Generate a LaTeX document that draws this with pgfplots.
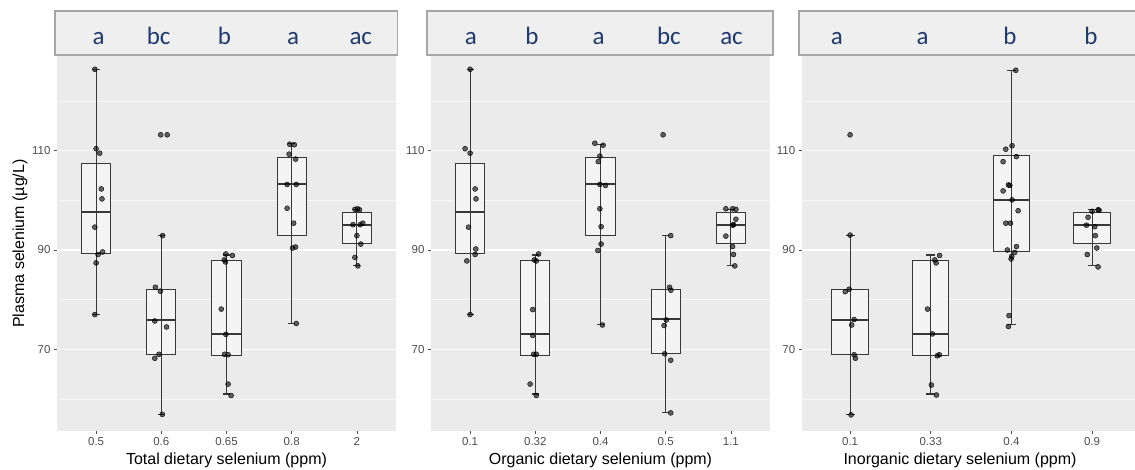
\documentclass[border=0pt]{standalone}
\usepackage{fontspec}
\setmainfont{Liberation Sans}
\newfontfamily\letterfont{Carlito}
\usepackage{pgfplots}
\usepackage{pgfplotstable}
\pgfplotsset{compat=1.18}
\definecolor{panelbg}{HTML}{EBEBEB}
\definecolor{stripfill}{HTML}{EFEFEF}
\definecolor{stripdraw}{HTML}{A6A6A6}
\definecolor{lettercol}{HTML}{1F3A6E}
\definecolor{tickcol}{HTML}{4D4D4D}
\definecolor{boxline}{HTML}{383838}
\definecolor{boxfill}{HTML}{F4F4F4}

\pgfplotsset{
  panel/.style={
    scale only axis, anchor=south west, height=375pt,
    ymin=53.55, ymax=129.07,
    axis background/.style={fill=panelbg},
    axis lines*=left,
    axis line style={draw=none},
    ytick={70,90,110}, minor ytick={60,80,100,120},
    ymajorgrids, yminorgrids, xmajorgrids=false,
    major grid style={white, line width=1.1pt},
    minor grid style={white!55!panelbg, line width=0.6pt},
    tick align=outside, major tick length=3pt, minor tick length=0pt,
    major tick style={tickcol, line width=0.6pt},
    tick label style={font=\fontsize{11.5}{13}\selectfont, text=tickcol},
    label style={font=\fontsize{16}{19}\selectfont, text=black},
    /pgf/number format/assume math mode=true,
    clip=false,
    x label style={at={(axis description cs:0.5,0)}, anchor=base, yshift=-33pt},
  },
  pts/.style={only marks, mark=*, mark size=2.5pt,
    mark options={fill=black, draw=none, fill opacity=0.6}},
}
\tikzset{
  strip/.style={fill=stripfill, draw=stripdraw, line width=1.3pt},
  lett/.style={font=\letterfont\fontsize{25}{29}\selectfont, text=lettercol, anchor=base},
}

% box: position, lower whisker, Q1, median, Q3, upper whisker
\newcommand{\bx}[6]{%
  \pgfmathsetmacro\xa{#1-0.225}\pgfmathsetmacro\xb{#1+0.225}%
  \pgfmathsetmacro\ca{#1-0.055}\pgfmathsetmacro\cb{#1+0.055}%
  \edef\doboxes{%
    \noexpand\addplot[boxline, fill=boxfill, line width=1pt] coordinates {(\xa,#3) (\xb,#3) (\xb,#5) (\xa,#5)} -- cycle;
    \noexpand\addplot[boxline, line width=2pt] coordinates {(\xa,#4) (\xb,#4)};
    \noexpand\addplot[boxline, line width=1.1pt] coordinates {(#1,#2) (#1,#6)};
    \noexpand\addplot[boxline, line width=1.1pt] coordinates {(\ca,#2) (\cb,#2)};
    \noexpand\addplot[boxline, line width=1.1pt] coordinates {(\ca,#6) (\cb,#6)};
  }\doboxes
}

\pgfplotstableread{
x y
-0.02 126.4
0 110.4
0.055 109.5
0.08 102.3
0.09 100.3
-0.02 94.6
0.1 89.6
0.03 89.1
0 87.4
-0.02 77.0
0.99 113.2
1.09 113.2
1.02 92.9
0.91 82.5
0.985 81.7
0.9 75.7
1.08 74.5
0.965 69.0
0.9 68.2
1.015 56.9
1.99 89.2
2.09 88.9
1.965 88.0
1.985 87.6
1.92 78.1
1.99 73.0
1.97 69.0
2.025 68.9
2.025 63.0
2.07 60.7
2.97 111.3
3.04 111.2
2.96 109.3
3.06 108.3
2.93 103.2
3.07 103.2
2.93 98.4
3.03 95.4
3.015 90.4
3.06 90.6
3.07 75.2
3.97 98.2
4.01 98.3
4.04 98.1
4.09 95.4
3.94 95.1
4.05 95.1
4.0 92.9
4.06 91.2
3.97 88.5
4.015 86.8
}\ptsA

\pgfplotstableread{
x y
0 126.4
-0.077 110.4
0 109.5
0.077 102.3
0.09 100.3
-0.025 94.6
0.087 90.2
0.077 89.1
-0.05 87.8
0 77.0
1.05 89.2
0.985 88.0
1.015 87.8
0.96 78.0
0.96 72.8
0.975 69.0
1.015 69.0
0.92 63.0
1.015 60.7
1.913 111.5
2.04 111.1
1.99 108.9
1.965 107.8
1.99 103.2
2.077 103.0
1.99 98.3
2.01 94.7
2.01 91.2
1.96 89.9
2.03 74.9
2.96 113.2
3.077 92.9
3.06 82.5
3.08 81.9
3.01 75.9
2.975 74.8
2.985 69.1
3.077 67.8
3.077 57.2
3.923 98.3
4.026 98.3
4.077 98.2
4.077 96.2
4.03 95.0
4.04 95.1
3.923 92.8
4.026 90.7
4.04 89.1
4.06 86.8
}\ptsB

\pgfplotstableread{
x y
0 113.2
0 93.0
-0.012 82.1
-0.06 81.6
0.05 76.0
0.02 74.9
0.05 68.9
0.066 68.2
0.012 56.8
1.11 88.9
1.05 88.0
1.066 87.4
0.96 78.1
1.02 73.1
1.08 68.7
1.107 68.9
1.008 62.8
1.07 60.8
2.054 126.2
2.008 111.0
1.93 110.3
2.062 108.8
1.897 107.8
1.963 103.1
1.98 103.0
1.897 101.9
2.008 100.1
2.083 97.9
1.93 95.4
1.988 95.4
1.95 90.0
2.062 90.7
2.04 89.5
1.996 88.2
2.004 88.7
1.97 76.8
1.963 74.6
3.075 98.1
3.087 98.0
3.0 97.8
2.95 96.6
2.93 95.0
3.033 94.7
3.04 92.9
3.058 90.4
2.94 89.1
3.074 86.6
}\ptsC

\begin{document}
\begin{tikzpicture}
\useasboundingbox (0,0) rectangle (1135pt,469pt);

% ---------- Panel 1: Total ----------
\begin{axis}[panel, at={(57pt,38pt)}, width=339pt,
  xmin=-0.6, xmax=4.6, xtick={0,1,2,3,4},
  xticklabels={0.5,0.6,0.65,0.8,2},
  xlabel={Total dietary selenium (ppm)},
  ylabel={Plasma selenium (µg/L)},
  y label style={at={(axis description cs:-0.109,0.5)}, anchor=center}]
\bx{0}{77.0}{89.2}{97.7}{107.5}{126.4}
\bx{1}{56.9}{68.9}{76.0}{82.0}{92.9}
\bx{2}{61.0}{68.8}{73.0}{87.9}{89.0}
\bx{3}{75.2}{93.0}{103.2}{108.6}{111.5}
\bx{4}{86.8}{91.4}{95.1}{97.6}{98.2}
\addplot[pts] table[x=x,y=y] {\ptsA};
\draw[strip] (rel axis cs:-0.006,1.003) rectangle (rel axis cs:1.004,1.12);
\node[lett] at (axis cs:0.04,131.3) {a};
\node[lett] at (axis cs:0.96,131.3) {bc};
\node[lett] at (axis cs:1.97,131.3) {b};
\node[lett] at (axis cs:3.02,131.3) {a};
\node[lett] at (axis cs:4.06,131.3) {ac};
\end{axis}

% ---------- Panel 2: Organic ----------
\begin{axis}[panel, at={(431pt,38pt)}, width=339pt,
  xmin=-0.6, xmax=4.6, xtick={0,1,2,3,4},
  xticklabels={0.1,0.32,0.4,0.5,1.1},
  xlabel={Organic dietary selenium (ppm)}]
\bx{0}{77.0}{89.2}{97.7}{107.5}{126.4}
\bx{1}{61.0}{68.8}{73.0}{87.9}{89.0}
\bx{2}{75.0}{93.0}{103.2}{108.7}{111.3}
\bx{3}{57.2}{69.1}{76.2}{82.1}{92.9}
\bx{4}{86.8}{91.4}{95.1}{97.6}{98.2}
\addplot[pts] table[x=x,y=y] {\ptsB};
\draw[strip] (rel axis cs:-0.012,1.003) rectangle (rel axis cs:1.009,1.12);
\node[lett] at (axis cs:0.01,131.3) {a};
\node[lett] at (axis cs:0.95,131.3) {b};
\node[lett] at (axis cs:1.97,131.3) {a};
\node[lett] at (axis cs:3.05,131.3) {bc};
\node[lett] at (axis cs:4.01,131.3) {ac};
\end{axis}

% ---------- Panel 3: Inorganic ----------
\begin{axis}[panel, at={(801.7pt,38pt)}, width=333.3pt,
  xmin=-0.6, xmax=3.532, xtick={0,1,2,3},
  xticklabels={0.1,0.33,0.4,0.9},
  xlabel={Inorganic dietary selenium (ppm)},
  x label style={at={(axis description cs:0.475,0)}}]
\bx{0}{56.9}{68.9}{76.0}{82.0}{92.9}
\bx{1}{61.0}{68.8}{73.0}{87.9}{89.0}
\bx{2}{75.0}{89.7}{100.1}{109.1}{126.2}
\bx{3}{86.8}{91.4}{95.1}{97.5}{98.2}
\addplot[pts] table[x=x,y=y] {\ptsC};
\draw[strip] (rel axis cs:-0.008,1.003) rectangle (rel axis cs:1.05,1.12);
\node[lett] at (axis cs:-0.165,131.3) {a};
\node[lett] at (axis cs:0.9,131.3) {a};
\node[lett] at (axis cs:1.98,131.3) {b};
\node[lett] at (axis cs:2.985,131.3) {b};
\end{axis}
\end{tikzpicture}
\end{document}
